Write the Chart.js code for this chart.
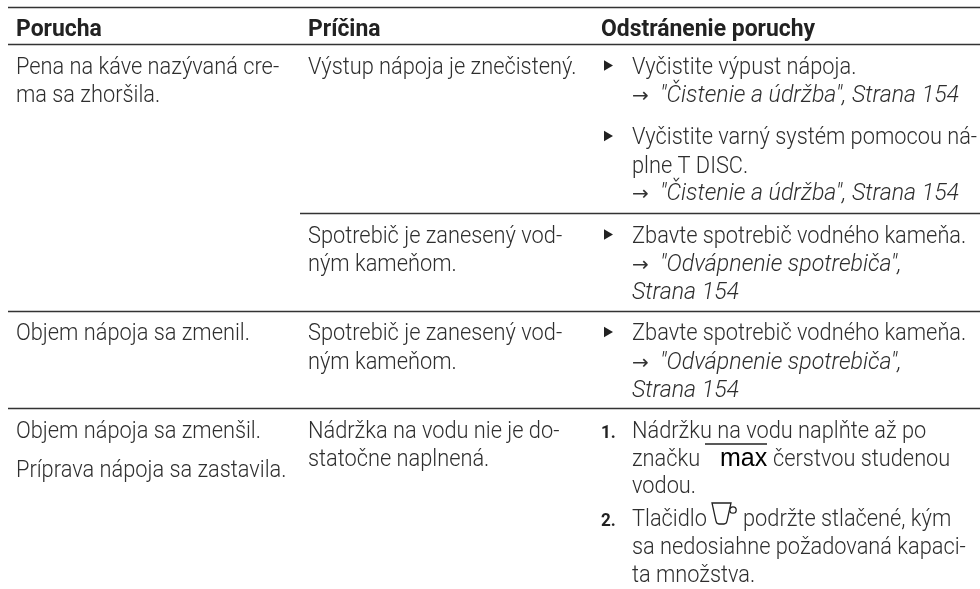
<!DOCTYPE html>
<html lang="sk"><head><meta charset="utf-8">
<style>html,body{margin:0;padding:0;background:#fff}#w{position:relative;width:980px;height:589px}canvas{display:block}</style>
<script src="https://cdn.jsdelivr.net/npm/chart.js@4"></script>
</head><body><div id="w"><canvas id="c" width="980" height="589"></canvas></div>
<script>
// Table rules: start, end, level
const ruleStart=[8,8,300,8,8];
const ruleEnd=[980,980,980,980,980];
const ruleLevel=[7.5,44.5,213.5,311.5,408.5];
// Text lines: content, column position, baseline level, kind
const textContent=["Porucha","Príčina","Odstránenie poruchy",
"Pena na káve nazývaná cre-","ma sa zhoršila.","Výstup nápoja je znečistený.",
"Vyčistite výpust nápoja.","→","\"Čistenie a údržba\", Strana 154",
"Vyčistite varný systém pomocou ná-","plne T DISC.","→","\"Čistenie a údržba\", Strana 154",
"Spotrebič je zanesený vod-","ným kameňom.","Zbavte spotrebič vodného kameňa.","→","\"Odvápnenie spotrebiča\",","Strana 154",
"Objem nápoja sa zmenil.","Spotrebič je zanesený vod-","ným kameňom.","Zbavte spotrebič vodného kameňa.","→","\"Odvápnenie spotrebiča\",","Strana 154",
"Objem nápoja sa zmenšil.","Príprava nápoja sa zastavila.","Nádržka na vodu nie je do-","statočne naplnená.",
"1.","Nádržku na vodu naplňte až po","značku","max","čerstvou studenou","vodou.",
"2.","Tlačidlo","podržte stlačené, kým","sa nedosiahne požadovaná kapaci-","ta množstva."];
const textX=[16,308,601,
16,16,308,
632,632,660,
632,632,632,660,
308,308,632,632,660,632,
16,308,308,632,632,660,632,
16,16,308,308,
601,632,632,720,773,632,
601,632,743,632,632];
const textY=[36,36,36,
73.5,101.5,73.5,
73.5,101.5,101.5,
144,172.5,200,200,
242.5,270.5,242.5,270.5,270.5,299,
340,340,368.5,340,368.5,368.5,396.7,
437.7,476.7,437.7,465.7,
437.7,437.7,465.7,465.7,465.7,493.3,
525.7,525.7,525.7,554,581.7];
const textKind=["h","h","h",
"r","r","r",
"r","a","i",
"r","r","a","i",
"r","r","r","a","i","i",
"r","r","r","r","a","i","i",
"r","r","r","r",
"n","r","r","m","r","r",
"n","r","r","r","r"];
const bulletX=[607,607,607,607];
const bulletY=[65.5,136,234.5,332];
const markLineX=[705,767];
const markLineY=[444,444];
const cupX=[725];
const cupY=[514];

const fonts={
 h:'700 24px Roboto',
 r:'300 24px Roboto',
 i:'italic 300 24px Roboto',
 a:'20px "DejaVu Sans"',
 n:'700 19px Roboto',
 m:'25px "Liberation Sans"'
};
const stretch={h:0.955,r:0.908,i:0.965,a:1,n:0.9,m:1};
const inkColor={h:'#222',r:'#2e2e2e',i:'#2e2e2e',a:'#333',n:'#222',m:'#000'};

const cup=document.createElement('canvas');cup.width=30;cup.height=26;
(function(){const g=cup.getContext('2d');g.strokeStyle='#222';g.lineWidth=1.3;
 g.beginPath();g.moveTo(2,2);g.lineTo(21,2);g.lineTo(17,20);g.quadraticCurveTo(16.5,23,14,23);g.lineTo(9,23);g.quadraticCurveTo(6.5,23,6,20);g.closePath();g.stroke();
 g.beginPath();g.arc(23,9,3.2,0,Math.PI*2);g.fillStyle='#fff';g.fill();g.stroke();})();

const ruleSets=ruleLevel.map((lv,i)=>({type:'line',data:[{x:ruleStart[i],y:lv},{x:ruleEnd[i],y:lv}],borderColor:'#333',borderWidth:1.4,pointRadius:0,fill:false,order:2}));

const tablePrint={id:'tablePrint',afterDatasetsDraw(ch){
 const g=ch.ctx,sx=ch.scales.x,sy=ch.scales.y;
 g.save();g.textBaseline='alphabetic';g.textAlign='left';
 textContent.forEach((t,i)=>{const k=textKind[i];g.font=fonts[k];g.fillStyle=inkColor[k];
  g.save();g.translate(sx.getPixelForValue(textX[i]),sy.getPixelForValue(textY[i]));g.scale(stretch[k],1);
  g.fillText(t,0,0);g.restore();});
 g.restore();
}};

new Chart(document.getElementById('c'),{
 data:{datasets:[...ruleSets,
  {type:'scatter',data:bulletX.map((x,i)=>({x,y:bulletY[i]})),pointStyle:'triangle',rotation:90,pointRadius:6,backgroundColor:'#222',borderWidth:0},
  {type:'line',data:markLineX.map((x,i)=>({x,y:markLineY[i]})),borderColor:'#222',borderWidth:1.4,pointRadius:0},
  {type:'scatter',data:cupX.map((x,i)=>({x,y:cupY[i]})),pointStyle:cup,pointRadius:13}
 ]},
 options:{responsive:false,animation:false,maintainAspectRatio:false,layout:{padding:0,autoPadding:false},
  plugins:{legend:{display:false},title:{display:false},tooltip:{enabled:false}},
  scales:{x:{type:'linear',min:0,max:980,display:false},y:{type:'linear',min:0,max:589,reverse:true,display:false}}},
 plugins:[tablePrint]
});
</script></body></html>
